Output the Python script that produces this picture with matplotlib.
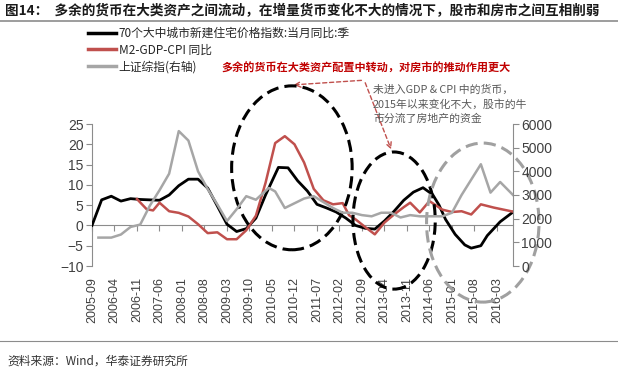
import matplotlib
matplotlib.use('Agg')
import matplotlib.pyplot as plt
from matplotlib.patches import Ellipse
from matplotlib.font_manager import FontProperties

plt.rcParams['font.family'] = ['Liberation Sans', 'Noto Sans CJK SC']
CJK = ['Noto Sans CJK SC', 'DejaVu Sans']

# x tick labels (every 7 months)
tick_labels = ['2005-09', '2006-04', '2006-11', '2007-06', '2008-01', '2008-08',
               '2009-03', '2009-10', '2010-05', '2010-12', '2011-07', '2012-02',
               '2012-09', '2013-04', '2013-11', '2014-06', '2015-01', '2015-08',
               '2016-03']

# 70 city new house price index, yoy (left axis)
house_dates = ['2005-09', '2005-12', '2006-03', '2006-06', '2006-09', '2006-12',
               '2007-03', '2007-06', '2007-09', '2007-12', '2008-03', '2008-06',
               '2008-09', '2008-12', '2009-03', '2009-06', '2009-09', '2009-12',
               '2010-03', '2010-07', '2010-10', '2011-01', '2011-04', '2011-07',
               '2011-10', '2012-01', '2012-04', '2012-07', '2012-10', '2013-01',
               '2013-04', '2013-07', '2013-10', '2014-01', '2014-04', '2014-07',
               '2014-09', '2014-11', '2015-02', '2015-05', '2015-07', '2015-10',
               '2015-12', '2016-04', '2016-08']
house_yoy = [0.0, 6.3, 7.2, 6.0, 6.6, 6.4, 6.3, 6.2, 7.5, 9.8, 11.4, 11.4,
             9.2, 4.8, 0.3, -1.5, -0.8, 1.8, 7.5, 14.3, 14.2, 11.0, 8.5, 5.2,
             4.3, 3.3, 1.8, 0.0, -0.7, -0.9, 1.1, 3.5, 6.2, 8.2, 9.3, 7.6,
             5.0, 1.5, -2.2, -4.8, -5.6, -5.0, -2.5, 0.9, 3.3]

# M2 - GDP - CPI, yoy (left axis)
m2_dates = ['2006-11', '2007-02', '2007-04', '2007-06', '2007-09', '2007-12',
            '2008-03', '2008-06', '2008-09', '2008-12', '2009-03', '2009-06',
            '2009-09', '2009-12', '2010-03', '2010-06', '2010-09', '2010-12',
            '2011-03', '2011-06', '2011-09', '2011-12', '2012-03', '2012-05',
            '2012-07', '2012-10', '2013-01', '2013-04', '2013-07', '2013-10',
            '2013-12', '2014-03', '2014-06', '2014-10', '2015-01', '2015-04',
            '2015-07', '2015-10', '2016-02', '2016-08']
m2_gap = [6.5, 4.0, 3.7, 5.6, 3.5, 3.1, 2.2, 0.3, -1.9, -1.7, -3.4, -3.4,
          -1.2, 2.4, 10.5, 20.3, 22.0, 20.0, 15.5, 9.0, 6.2, 5.2, 5.5, 2.5,
          1.5, -0.4, -2.2, 0.7, 2.7, 4.5, 5.6, 3.2, 6.0, 3.9, 3.3, 3.5,
          2.7, 5.2, 4.4, 3.4]

# Shanghai composite index (right axis)
sh_dates = ['2005-11', '2006-03', '2006-06', '2006-09', '2006-12', '2007-03',
            '2007-06', '2007-09', '2007-12', '2008-03', '2008-06', '2008-09',
            '2008-12', '2009-03', '2009-06', '2009-09', '2009-12', '2010-04',
            '2010-06', '2010-09', '2010-12', '2011-03', '2011-06', '2011-09',
            '2011-12', '2012-03', '2012-06', '2012-09', '2012-12', '2013-03',
            '2013-06', '2013-09', '2013-12', '2014-03', '2014-07', '2014-10',
            '2015-01', '2015-04', '2015-07', '2015-10', '2016-01', '2016-04',
            '2016-08']
sh_index = [1200, 1200, 1330, 1650, 1750, 2550, 3200, 3900, 5700, 5300, 4000,
            3250, 2600, 1900, 2400, 2950, 2800, 3300, 3150, 2450, 2650, 2850,
            2950, 2700, 2450, 2250, 2250, 2150, 2100, 2250, 2250, 2050, 2150,
            2100, 2100, 2100, 2250, 3000, 3650, 4300, 3100, 3550, 3000]


def month_idx(s):
    y, m = s.split('-')
    return (int(y) - 2005) * 12 + int(m) - 9


def to_idx(dates):
    return [month_idx(d) for d in dates]


fig = plt.figure(figsize=(6.18, 3.76), dpi=100)
ax = fig.add_axes([92 / 618, 1 - 266 / 376, (513 - 92) / 618, (266 - 124) / 376])
ax2 = ax.twinx()

l1, = ax.plot(to_idx(house_dates), house_yoy, color='black', lw=2.0, zorder=3)
l2, = ax.plot(to_idx(m2_dates), m2_gap, color='#c0504d', lw=1.8, zorder=4)
l3, = ax2.plot(to_idx(sh_dates), sh_index, color='#a6a6a6', lw=1.8, zorder=2)

spine_c = '#8c8c8c'
ax.set_xlim(0, month_idx('2016-08'))
ax.set_ylim(-10, 25)
ax.set_yticks(range(-10, 26, 5))
ax2.set_ylim(0, 6000)
ax2.set_yticks(range(0, 6001, 1000))

for a in (ax, ax2):
    a.spines['top'].set_visible(False)
    a.patch.set_visible(False)
ax.spines['right'].set_visible(False)
ax2.spines['left'].set_visible(False)
ax2.spines['bottom'].set_visible(False)
ax.spines['left'].set_color(spine_c)
ax2.spines['right'].set_color(spine_c)
ax.spines['bottom'].set_position(('data', 0))
ax.spines['bottom'].set_color(spine_c)

ax.tick_params(axis='y', direction='out', length=4, color=spine_c,
               labelsize=10, labelcolor='#404040', pad=2)
ax2.tick_params(axis='y', direction='out', length=4, color=spine_c,
                labelsize=10, labelcolor='#404040', pad=2)
ticks_x = [month_idx(t) for t in tick_labels]
ax.set_xticks(ticks_x)
ax.tick_params(axis='x', direction='out', length=4, color=spine_c, labelbottom=False)

sec = ax.secondary_xaxis(0.0)
sec.set_xticks(ticks_x)
sec.set_xticklabels(tick_labels, rotation=90, fontsize=9, color='#404040')
sec.tick_params(length=0, pad=8)
sec.spines['bottom'].set_visible(False)

# dashed ellipses
ax.add_patch(Ellipse((62.2, 14.2), 37.5, 40.4, fill=False, ls=(0, (4, 2)),
                     lw=2.2, color='black', clip_on=False, zorder=5))
ax.add_patch(Ellipse((94, 1.2), 25.6, 33.8, fill=False, ls=(0, (4, 2)),
                     lw=2.2, color='black', clip_on=False, zorder=5))
ax.add_patch(Ellipse((121.6, 0.7), 35, 39.2, fill=False, ls=(0, (4, 2)),
                     lw=2.2, color='#a0a0a0', clip_on=False, zorder=5))

# red dashed arrows
arrow_kw = dict(arrowstyle='->', color='#c0504d', lw=1.0, ls=(0, (3, 2)))
ax.annotate('', xy=(61.9, 34.6), xytext=(84.7, 35.8), arrowprops=arrow_kw,
            annotation_clip=False)
ax.annotate('', xy=(93.4, 18.1), xytext=(84.7, 35.8), arrowprops=arrow_kw,
            annotation_clip=False)

fig.text(221 / 618, 1 - 68 / 376, '多余的货币在大类资产配置中转动，对房市的推动作用更大',
         family=CJK, fontsize=8, fontweight='bold', color='#c00000', va='center')
fig.text(373 / 618, 1 - 85 / 376,
         '未进入GDP & CPI 中的货币，\n2015年以来变化不大，股市的牛\n市分流了房地产的资金',
         family=CJK, fontsize=7.8, color='#595959', va='top', linespacing=1.4)

leg = fig.legend([l1, l2, l3], ['70个大中城市新建住宅价格指数:当月同比:季', 'M2-GDP-CPI 同比',
                                '上证综指(右轴)'],
                 loc='upper left', bbox_to_anchor=(88 / 618, 1 - 27 / 376),
                 frameon=False, prop=FontProperties(family=CJK, size=8.5),
                 handlelength=2.4, handletextpad=0.2, labelspacing=0.3,
                 borderpad=0, borderaxespad=0)
for t in leg.get_texts():
    t.set_color('#262626')
for h in leg.get_lines():
    h.set_linewidth(2.5)

# title and source
fig.text(5 / 618, 1 - 11 / 376, '图14：  多余的货币在大类资产之间流动，在增量货币变化不大的情况下，股市和房市之间互相削弱',
         family=CJK, fontsize=9.8, fontweight='bold', color='#1a1a1a', va='center')
fig.add_artist(plt.Line2D([0, 1], [1 - 21 / 376, 1 - 21 / 376], color='#8c8c8c', lw=1.2))
fig.add_artist(plt.Line2D([0, 1], [1 - 341 / 376, 1 - 341 / 376], color='#8c8c8c', lw=0.8))
fig.text(7 / 618, 1 - 361 / 376, '资料来源：Wind，华泰证券研究所', family=CJK,
         fontsize=8.5, style='italic', color='#333333', va='center')

fig.savefig('out.png', dpi=100)
